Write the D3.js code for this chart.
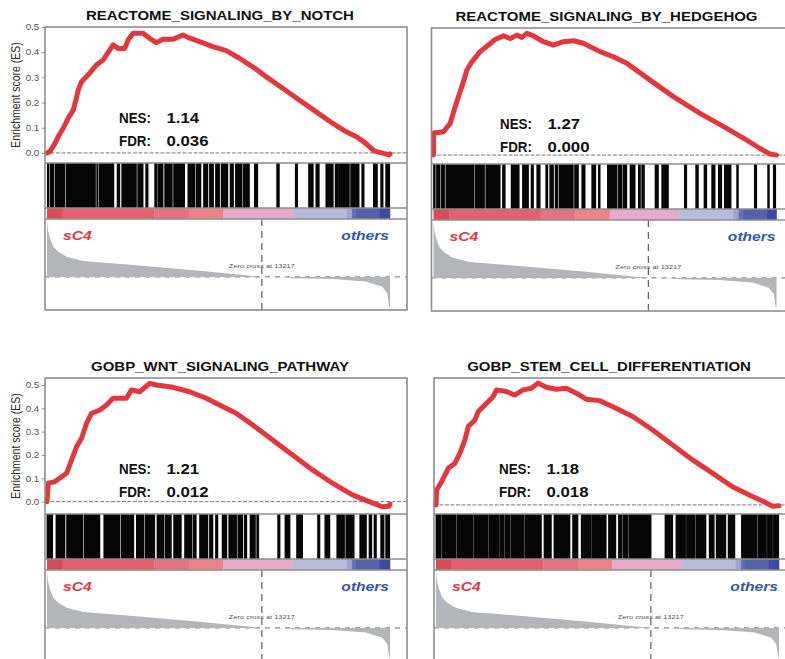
<!DOCTYPE html>
<html>
<head>
<meta charset="utf-8">
<script src="https://cdn.jsdelivr.net/npm/d3@7"></script>
<style>
  html, body { margin: 0; padding: 0; background: #fff; }
  svg { display: block; font-family: "Liberation Sans", Arial, Helvetica, sans-serif; }
</style>
</head>
<body>
<svg id="chart" width="785" height="659"></svg>
<script>
// Ranked gene list
const geneCount = 21100;
const zeroCrossRank = 13217;
const groupUp = "sC4";
const groupDown = "others";

// Gene sets and their statistics
const titles = [
  "REACTOME_SIGNALING_BY_NOTCH",
  "REACTOME_SIGNALING_BY_HEDGEHOG",
  "GOBP_WNT_SIGNALING_PATHWAY",
  "GOBP_STEM_CELL_DIFFERENTIATION"
];
const nesValues = [1.14, 1.27, 1.21, 1.18];
const fdrValues = [0.036, 0.000, 0.012, 0.018];
const esTicks = [0.0, 0.1, 0.2, 0.3, 0.4, 0.5];

// Running enrichment score: [rank, ES]
const esNotch = [
  [0, 0], [184, 0.006], [491, 0.038], [693, 0.065], [1000, 0.098], [1307, 0.138],
  [1613, 0.17], [1779, 0.21], [1920, 0.25], [2128, 0.283], [2533, 0.31], [3049, 0.35],
  [3454, 0.369], [3864, 0.409], [4067, 0.429], [4374, 0.415], [4785, 0.415], [4987, 0.448],
  [5294, 0.475], [5907, 0.475], [6318, 0.455], [6729, 0.438], [7134, 0.451], [7747, 0.451],
  [8361, 0.468], [8667, 0.459], [9385, 0.442], [10201, 0.422], [11023, 0.406], [11839, 0.376],
  [12654, 0.342], [13476, 0.303], [14495, 0.257], [15519, 0.21], [16543, 0.164], [17562, 0.118],
  [18384, 0.085], [19095, 0.062], [19610, 0.038], [20120, 0.008], [20629, -0.001],
  [21040, -0.008], [21100, -0.004]
];
const esHedgehog = [
  [0, 0], [10, 0.087], [615, 0.092], [1027, 0.125], [1334, 0.19], [1537, 0.23],
  [1844, 0.289], [2053, 0.335], [2361, 0.367], [2871, 0.407], [3381, 0.433], [3793, 0.455],
  [4304, 0.469], [4716, 0.459], [5127, 0.472], [5435, 0.463], [5742, 0.479], [6148, 0.469],
  [6763, 0.446], [7378, 0.433], [7992, 0.446], [8607, 0.45], [9222, 0.44], [10249, 0.407],
  [11066, 0.387], [11890, 0.361], [13322, 0.295], [14755, 0.23], [16396, 0.164],
  [18038, 0.105], [19268, 0.059], [20085, 0.026], [20700, 0.004], [21100, 0]
];
const esWnt = [
  [0, 0], [80, 0.079], [491, 0.086], [901, 0.107], [1208, 0.122], [1515, 0.179],
  [1822, 0.236], [2128, 0.272], [2435, 0.336], [2742, 0.379], [3251, 0.393], [3662, 0.414],
  [4067, 0.443], [4889, 0.443], [5196, 0.479], [5705, 0.471], [6318, 0.507], [6729, 0.5],
  [7747, 0.49], [8772, 0.471], [9796, 0.443], [10612, 0.414], [11636, 0.379], [12654, 0.329],
  [13881, 0.264], [15108, 0.2], [16334, 0.136], [17562, 0.079], [18789, 0.029],
  [19812, 0], [20629, -0.022], [21040, -0.02], [21100, -0.01]
];
const esStem = [
  [0, 0], [41, 0.064], [350, 0.1], [755, 0.157], [1166, 0.179], [1472, 0.222],
  [1779, 0.279], [1984, 0.336], [2392, 0.364], [2597, 0.4], [3110, 0.436], [3515, 0.464],
  [3723, 0.493], [4337, 0.486], [4846, 0.471], [5355, 0.493], [5870, 0.5], [6275, 0.522],
  [6790, 0.504], [7404, 0.496], [8017, 0.5], [8631, 0.479], [9244, 0.453], [10060, 0.447],
  [10876, 0.421], [12103, 0.379], [13330, 0.321], [14556, 0.257], [15783, 0.193],
  [17010, 0.136], [18237, 0.078], [19463, 0.036], [20285, 0.01], [20700, -0.006], [21100, -0.004]
];

// Gene set members in the ranked list: [first rank, last rank] of each run of hits
const hitsNotch = [
  [20, 102], [184, 429], [511, 1100], [1180, 2980], [3060, 3087], [3210, 4110], [4314, 4478],
  [4600, 5500], [5582, 5909], [6073, 6216], [6625, 6768], [6829, 7136], [7238, 7708],
  [7790, 8465], [8669, 9100], [9180, 9181], [9262, 9467], [9630, 9896], [9998, 10244],
  [10366, 10612], [10714, 11123], [11266, 11471], [11593, 12002], [12084, 12452],
  [12759, 12963], [14129, 14292], [15274, 15417], [16091, 16378], [16541, 16746],
  [17155, 17605], [17727, 17932], [17973, 18600], [18680, 19199], [19363, 19506],
  [20079, 20324], [20529, 20672], [20835, 21080]
];
const hitsHedgehog = [
  [2, 105], [186, 400], [480, 678], [760, 2500], [2580, 3137], [3219, 4101], [4244, 4408],
  [4777, 5269], [5474, 5843], [6006, 6150], [6355, 6560], [6908, 7031], [7154, 7380],
  [7482, 7650], [7730, 8600], [8680, 8917], [9122, 9327], [9736, 9982], [10146, 10249],
  [10699, 11294], [11376, 11600], [11680, 11888], [12093, 12400], [12605, 12728],
  [12810, 12974], [13630, 13835], [14040, 14450], [15433, 15577], [16130, 16294],
  [16643, 16807], [17114, 17319], [17524, 17729], [17893, 18303], [18651, 18753],
  [19737, 19881], [20557, 20659], [20905, 21049]
];
const hitsWnt = [
  [0, 348], [552, 1104], [1206, 2200], [2280, 3251], [3496, 4478], [4560, 5337],
  [5500, 5950], [6030, 6625], [6768, 7200], [7280, 7647], [7790, 8261], [8465, 8900],
  [8980, 9181], [9385, 9896], [9998, 10203], [10366, 10510], [10775, 11061],
  [11184, 11660], [11740, 12043], [12145, 12288], [12493, 12820], [12902, 13024],
  [14190, 14333], [14640, 14947], [15356, 15723], [16644, 16787], [17094, 17400],
  [17829, 18300], [18380, 18893], [19241, 19649], [19813, 19977], [20120, 20263],
  [20529, 20733], [20835, 21080]
];
const hitsStem = [
  [0, 320], [380, 1240], [1300, 2260], [2320, 3180], [3240, 3900], [3960, 4200],
  [4260, 4570], [4630, 5430], [5490, 6482], [6645, 7095], [7259, 8240], [8404, 8731],
  [8935, 9560], [9620, 10469], [10612, 11061], [11225, 11440], [11500, 11800],
  [11860, 13229], [14088, 14558], [14763, 15350], [15410, 15920], [15980, 16603],
  [16807, 17114], [17237, 17829], [17973, 18382], [18791, 19740], [19800, 20330],
  [20390, 20700], [20760, 21080]
];

// Ranked-list colour bar: rank breaks and segment colours
const colorBarBreaks = [0, 960, 6600, 8730, 10840, 15110, 18430, 18760, 19000, 20470, 21100];
const colorBarColors = [
  "#d84b57", "#e4606a", "#e3737f", "#ec8384", "#e6abcb",
  "#b8bcdc", "#a0a5cf", "#6770b4", "#5462a8", "#3c4b9f"
];

// Ranked list metric: [rank] -> value
const metricRanks  = [0, 60, 184, 386, 693, 1208, 2227, 5294, 9385, 13217, 14950, 15050, 17562, 19610, 20629, 20936, 21050, 21100];
const metricValues = [0.97, 0.8, 0.672, 0.522, 0.436, 0.35, 0.276, 0.207, 0.109, 0, -0.003, -0.022, -0.036, -0.08, -0.167, -0.28, -0.51, -0.51];

// Panel layout
const W = 362, H = 283;          // frame size
const esBottom = 136, hitsBottom = 181, barBottom = 192;
const panels = [
  { title: titles[0], es: esNotch,    hits: hitsNotch,    nes: nesValues[0], fdr: fdrValues[0], x: 45,    y: 27,  esDomain: [-0.04, 0.5],   axis: true,  stat: [74, 96] },
  { title: titles[1], es: esHedgehog, hits: hitsHedgehog, nes: nesValues[1], fdr: fdrValues[1], x: 431.5, y: 28,  esDomain: [-0.035, 0.5],  axis: false, stat: [68.5, 101] },
  { title: titles[2], es: esWnt,      hits: hitsWnt,      nes: nesValues[2], fdr: fdrValues[2], x: 45,    y: 378, esDomain: [-0.053, 0.53], axis: true,  stat: [74, 96] },
  { title: titles[3], es: esStem,     hits: hitsStem,     nes: nesValues[3], fdr: fdrValues[3], x: 434,   y: 378, esDomain: [-0.039, 0.544],axis: false, stat: [65, 96] }
];

const svg = d3.select("#chart");
svg.append("rect").attr("width", 785).attr("height", 659).attr("fill", "#fff");

const frameColor = "#8e8e8e";
const stretch = 1.2;

function stretchedText(g, txt, x, y, opts) {
  return g.append("text")
    .attr("transform", `translate(${x},${y}) scale(${opts.sx || stretch},1)`)
    .attr("text-anchor", opts.anchor || "start")
    .attr("font-size", opts.size)
    .attr("font-weight", opts.weight || "normal")
    .attr("font-style", opts.style || "normal")
    .attr("fill", opts.fill || "#000")
    .text(txt);
}

panels.forEach(p => {
  const g = svg.append("g").attr("transform", `translate(${p.x},${p.y})`);
  const x = d3.scaleLinear().domain([0, geneCount]).range([2, 345]);
  const yES = d3.scaleLinear().domain(p.esDomain).range([esBottom, 0]);
  const yM = d3.scaleLinear().domain([-0.57, 1.0]).range([H, barBottom]);

  // ES zero line
  g.append("line")
    .attr("x1", 0).attr("x2", W)
    .attr("y1", yES(0)).attr("y2", yES(0))
    .attr("stroke", "#7a7a7a").attr("stroke-width", 1)
    .attr("stroke-dasharray", "4,1.5");

  // running enrichment score
  g.append("path")
    .datum(p.es)
    .attr("d", d3.line().x(d => x(d[0])).y(d => yES(d[1])))
    .attr("fill", "none")
    .attr("stroke", "#e2373d")
    .attr("stroke-width", 5)
    .attr("stroke-linejoin", "round")
    .attr("stroke-linecap", "round");

  // hit strip
  g.append("g").selectAll("rect")
    .data(p.hits)
    .join("rect")
    .attr("x", d => x(d[0]) - 0.4)
    .attr("width", d => Math.max(2, x(d[1]) - x(d[0]) + 0.8))
    .attr("y", esBottom)
    .attr("height", hitsBottom - esBottom)
    .attr("fill", "#060606");

  // colour bar
  g.append("g").selectAll("rect")
    .data(d3.pairs(colorBarBreaks))
    .join("rect")
    .attr("x", d => x(d[0]))
    .attr("width", d => x(d[1]) - x(d[0]) + 0.3)
    .attr("y", hitsBottom)
    .attr("height", barBottom - hitsBottom)
    .attr("fill", (d, i) => colorBarColors[i]);

  // ranked list metric
  g.append("line")
    .attr("x1", 0).attr("x2", W)
    .attr("y1", yM(0)).attr("y2", yM(0))
    .attr("stroke", "#8a8a8a").attr("stroke-width", 1.2)
    .attr("stroke-dasharray", "5,5");
  g.append("path")
    .datum(d3.range(metricRanks.length))
    .attr("d", d3.area()
      .x(i => x(metricRanks[i]))
      .y0(yM(0))
      .y1(i => yM(metricValues[i])))
    .attr("fill", "#b3b5b8");

  // zero-cross marker
  g.append("line")
    .attr("x1", x(zeroCrossRank)).attr("x2", x(zeroCrossRank))
    .attr("y1", barBottom).attr("y2", H)
    .attr("stroke", "#5f5f5f").attr("stroke-width", 1.2)
    .attr("stroke-dasharray", "7,5");
  stretchedText(g, `Zero cross at ${zeroCrossRank}`, x(zeroCrossRank), 240.5,
    { size: 6.2, anchor: "middle", fill: "#555" });

  // group labels
  stretchedText(g, groupUp, x(0) + 16, 213, { size: 13, weight: "bold", style: "italic", fill: "#e8343c" });
  stretchedText(g, groupDown, x(geneCount) - 1, 213, { size: 13, weight: "bold", style: "italic", fill: "#3556a6", anchor: "end" });

  // frame and dividers
  g.append("rect")
    .attr("x", 0).attr("y", 0).attr("width", W).attr("height", H)
    .attr("fill", "none").attr("stroke", frameColor).attr("stroke-width", 1.6);
  [esBottom, hitsBottom, barBottom].forEach(yy => {
    g.append("line").attr("x1", 0).attr("x2", W).attr("y1", yy).attr("y2", yy)
      .attr("stroke", frameColor).attr("stroke-width", 1.4);
  });

  // title
  stretchedText(g, p.title, 175, -7.5, { size: 12.5, weight: "bold", anchor: "middle", fill: "#111" });

  // NES / FDR
  const [sx, sy] = p.stat;
  [["NES:", p.nes.toFixed(2), sy], ["FDR:", p.fdr.toFixed(3), sy + 22.5]].forEach(([lab, val, yy]) => {
    g.append("text")
      .attr("x", sx).attr("y", yy)
      .attr("font-size", 14).attr("font-weight", "bold").attr("fill", "#111")
      .attr("textLength", 32).attr("lengthAdjust", "spacingAndGlyphs")
      .text(lab);
    stretchedText(g, val, sx + 47.5, yy, { size: 14, weight: "bold", fill: "#111" });
  });

  // y axis
  if (p.axis) {
    const ax = g.append("g")
      .call(d3.axisLeft(yES).tickValues(esTicks).tickSize(3).tickPadding(2).tickFormat(d3.format(".1f")));
    ax.select(".domain").remove();
    ax.selectAll(".tick line").attr("stroke", "#888");
    ax.selectAll(".tick text")
      .attr("font-size", 8.5)
      .attr("font-family", "\"Liberation Sans\", Arial, sans-serif")
      .attr("fill", "#555")
      .attr("transform", "scale(1.15,1)");
    g.append("text")
      .attr("transform", `translate(-25,${esBottom / 2}) scale(${stretch},1) rotate(-90)`)
      .attr("text-anchor", "middle")
      .attr("font-size", 10.5)
      .attr("fill", "#2a2a2a")
      .text("Enrichment score (ES)");
  }
});
</script>
</body>
</html>
